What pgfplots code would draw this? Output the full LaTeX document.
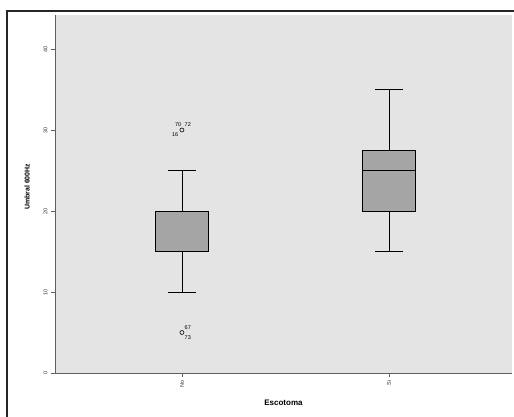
\documentclass[border=0pt]{standalone}
\usepackage{pgfplots}
\pgfplotsset{compat=1.18}
\usepackage{fontspec}
\setmainfont{Liberation Sans}
\definecolor{bg}{RGB}{228,228,228}
\definecolor{boxg}{RGB}{165,165,165}
\definecolor{axg}{RGB}{95,95,95}
\begin{document}
\begin{tikzpicture}
\useasboundingbox (0,0) rectangle (514pt,417pt);
\fill[white] (0,0) rectangle (514pt,417pt);
\begin{axis}[
  at={(55pt,44pt)}, anchor=south west,
  scale only axis, width=457pt, height=358pt,
  xmin=0.387, xmax=2.594, ymin=0, ymax=44.2,
  axis x line*=bottom, axis y line*=left,
  axis line style={axg, line width=0.8pt},
  axis background/.style={fill=bg},
  xtick={1,2}, xticklabels={No,Si},
  ytick={0,10,20,30,40},
  tick align=outside, major tick length=4pt,
  tick style={axg, line width=0.6pt},
  /pgf/number format/assume math mode=true,
  xticklabel style={rotate=90, anchor=east, font=\fontsize{5.5}{6}\selectfont, text=black!80},
  yticklabel style={rotate=90, anchor=south, font=\fontsize{5.5}{6}\selectfont, text=black!80},
  ylabel={\textbf{Umbral 600Hz}},
  ylabel style={at={(axis description cs:-0.061,0.52)}, anchor=center, font=\fontsize{7}{8}\selectfont},
  xlabel={\textbf{Escotoma}},
  xlabel style={at={(axis description cs:0.5,-0.084)}, anchor=center, font=\fontsize{8}{9}\selectfont},
  clip=false,
]
% No: whiskers 10-25, box 15-20, median 15
\addplot[black, line width=0.7pt] coordinates {(1,10) (1,15)};
\addplot[black, line width=0.7pt] coordinates {(1,20) (1,25)};
\addplot[black, line width=0.8pt] coordinates {(0.9325,10) (1.0675,10)};
\addplot[black, line width=0.8pt] coordinates {(0.9325,25) (1.0675,25)};
\addplot[draw=black, line width=0.7pt, fill=boxg] coordinates {(0.8715,15) (1.1285,15) (1.1285,20) (0.8715,20)} -- cycle;
\addplot[black, line width=1pt] coordinates {(0.8715,15) (1.1285,15)};
% Si: whiskers 15-35, box 20-27.5, median 25
\addplot[black, line width=0.7pt] coordinates {(2,15) (2,20)};
\addplot[black, line width=0.7pt] coordinates {(2,27.5) (2,35)};
\addplot[black, line width=0.8pt] coordinates {(1.9325,15) (2.0675,15)};
\addplot[black, line width=0.8pt] coordinates {(1.9325,35) (2.0675,35)};
\addplot[draw=black, line width=0.7pt, fill=boxg] coordinates {(1.8715,20) (2.1285,20) (2.1285,27.5) (1.8715,27.5)} -- cycle;
\addplot[black, line width=1pt] coordinates {(1.8715,25) (2.1285,25)};
% outliers
\addplot[only marks, mark=o, mark size=2pt, mark options={black, line width=0.6pt}] coordinates {(1,30) (1,5)};
\node[font=\fontsize{5.5}{6}\selectfont, anchor=south east, inner sep=0.5pt] at (axis cs:1,30.3) {70};
\node[font=\fontsize{5.5}{6}\selectfont, anchor=south west, inner sep=0.5pt] at (axis cs:1.01,30.3) {72};
\node[font=\fontsize{5.5}{6}\selectfont, anchor=north east, inner sep=0.5pt] at (axis cs:0.985,29.8) {16};
\node[font=\fontsize{5.5}{6}\selectfont, anchor=south west, inner sep=0.5pt] at (axis cs:1.01,5.3) {67};
\node[font=\fontsize{5.5}{6}\selectfont, anchor=north west, inner sep=0.5pt] at (axis cs:1.01,4.7) {73};
\end{axis}
\draw[black!85, line width=2pt] (7pt,-2pt) -- (7pt,406pt) -- (516pt,406pt);
\end{tikzpicture}
\end{document}
